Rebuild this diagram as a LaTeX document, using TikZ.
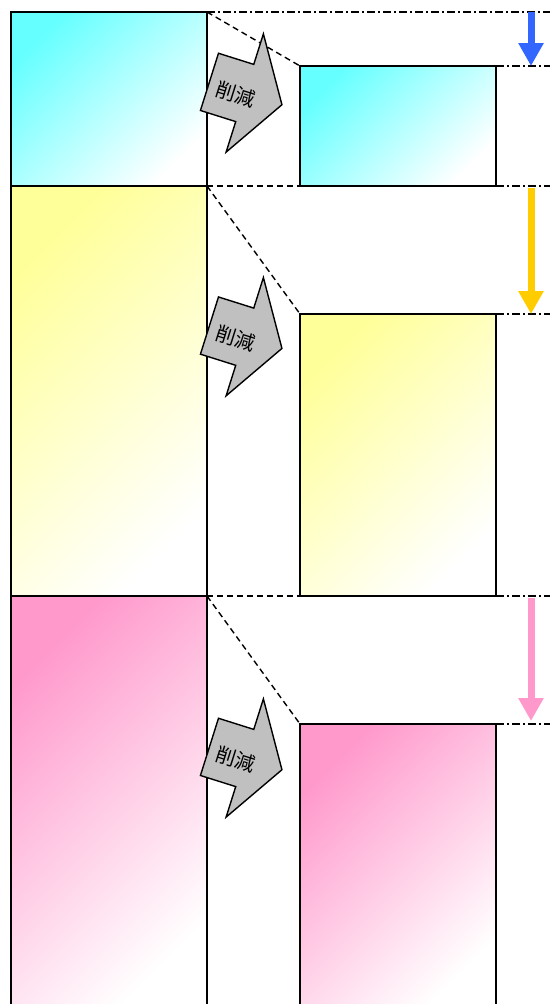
\documentclass[tikz,border=0pt]{standalone}
\usepackage{fontspec}
\newfontfamily\jpfont{Noto Sans CJK JP}
\usetikzlibrary{arrows.meta,positioning}
\definecolor{boxcyan}{HTML}{66FFFF}
\definecolor{boxyellow}{HTML}{FFFF99}
\definecolor{boxpink}{HTML}{FF99CC}
\definecolor{arrowblue}{HTML}{3366FF}
\definecolor{arroworange}{HTML}{FFCC00}
\definecolor{cutgray}{HTML}{C0C0C0}

\begin{document}
\begin{tikzpicture}[x=1pt,y=-1pt,
    box/.style={draw,line width=1.4pt,inner sep=0pt,outer sep=0pt,minimum width=196pt,
        top color=#1,bottom color=white,shading angle=45},
    cutline/.style={line width=1.4pt,dash pattern=on 6pt off 4pt},
    levelline/.style={line width=1.4pt,dash pattern=on 8pt off 3pt on 2pt off 3pt},
    cutarrow/.style={draw,line width=1.4pt,fill=cutgray,line join=miter},
    cuttext/.style={font=\jpfont\fontsize{20}{20}\selectfont,inner sep=0pt,rotate=-17.5},
    downarrow/.style={line width=7pt,-{Triangle[width=24pt,length=23pt]}}]

    \clip (0,0) rectangle (551,1004);

    % left column
    \node[box=boxcyan,minimum height=174pt,anchor=north west] (cL) at (11,12) {};
    \node[box=boxyellow,minimum height=410pt,below=0pt of cL] (yL) {};
    \node[box=boxpink,minimum height=414pt,below=0pt of yL] (pL) {};

    % right column
    \node[box=boxcyan,minimum height=120pt,anchor=south west] (cR) at ([xshift=93pt]cL.south east) {};
    \node[box=boxyellow,minimum height=282pt,anchor=south west] (yR) at ([xshift=93pt]yL.south east) {};
    \node[box=boxpink,minimum height=286pt,anchor=north west] (pR) at ([xshift=93pt,yshift=-128pt]pL.north east) {};

    \coordinate (edge) at (550,0);
    \coordinate (ax) at (531,0);

    % guide lines
    \draw[cutline] (cL.north east) -- (cR.north west);
    \draw[cutline] (cL.south east) -- (cR.south west);
    \draw[cutline] (yL.north east) -- (yR.north west);
    \draw[cutline] (yL.south east) -- (yR.south west);
    \draw[cutline] (pL.north east) -- (pR.north west);

    \draw[levelline] (cL.north east) -- (cL.north east -| edge);
    \draw[levelline] (cR.north east) -- (cR.north east -| edge);
    \draw[levelline] (cR.south east) -- (cR.south east -| edge);
    \draw[levelline] (yR.north east) -- (yR.north east -| edge);
    \draw[levelline] (yR.south east) -- (yR.south east -| edge);
    \draw[levelline] (pR.north east) -- (pR.north east -| edge);

    % reduction arrows
    \draw[downarrow,arrowblue] (cL.north east -| ax) -- (cR.north east -| ax);
    \draw[downarrow,arroworange,shorten <=2pt] (cR.south east -| ax) -- (yR.north east -| ax);
    \draw[downarrow,boxpink,shorten <=2pt,shorten >=3pt] (yR.south east -| ax) -- (pR.north east -| ax);

    % cut marks
    \begin{scope}[shift={(245.7,93.3)},rotate=-17.5]
        \draw[cutarrow] (-38,-30) -- (-1,-30) -- (-1,-62) -- (38,0) -- (-1,62) -- (-1,30) -- (-38,30) -- cycle;
        \node[cuttext] (cut1) at (-9,4) {削減};
    \end{scope}
    \begin{scope}[shift={(245.7,337)},rotate=-17.5]
        \draw[cutarrow] (-38,-30) -- (-1,-30) -- (-1,-62) -- (38,0) -- (-1,62) -- (-1,30) -- (-38,30) -- cycle;
        \node[cuttext] (cut2) at (-9,4) {削減};
    \end{scope}
    \begin{scope}[shift={(245.7,758.3)},rotate=-17.5]
        \draw[cutarrow] (-38,-30) -- (-1,-30) -- (-1,-62) -- (38,0) -- (-1,62) -- (-1,30) -- (-38,30) -- cycle;
        \node[cuttext] (cut3) at (-9,4) {削減};
    \end{scope}
\end{tikzpicture}
\end{document}
